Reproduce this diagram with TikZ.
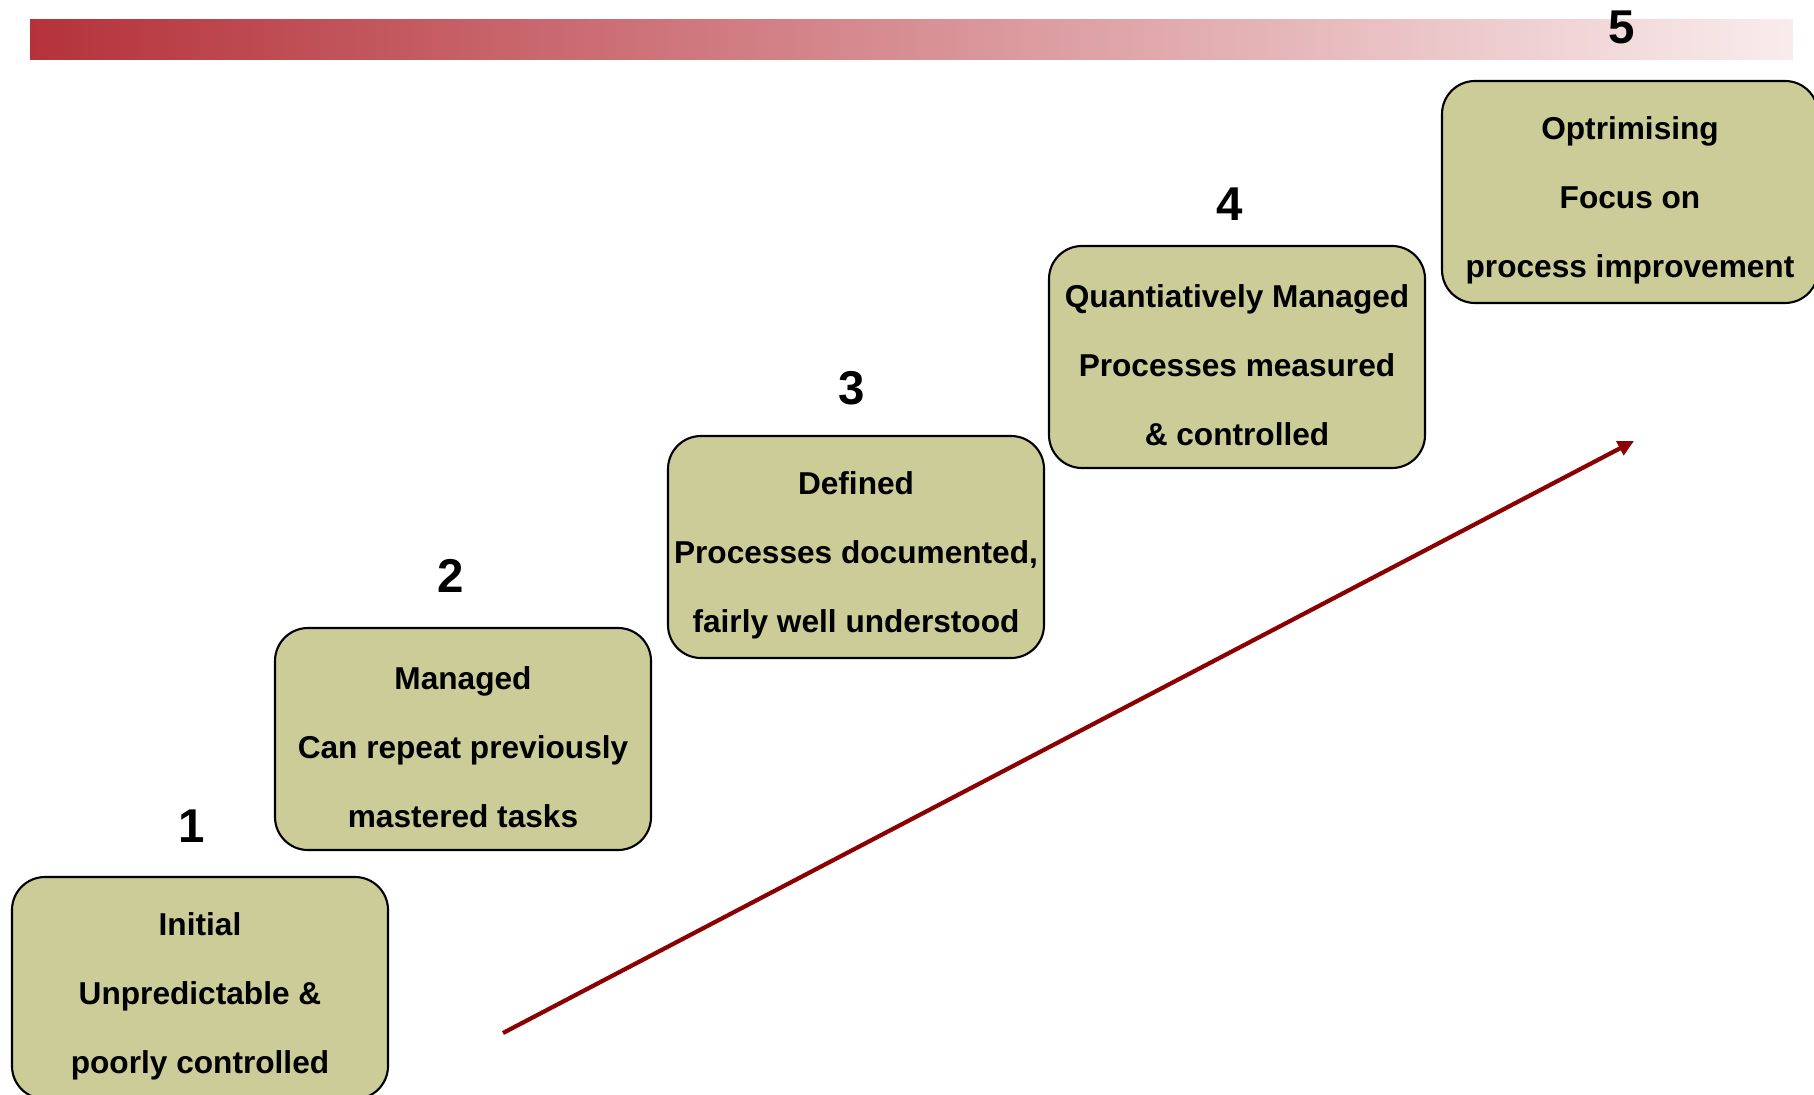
\documentclass[tikz,border=0pt]{standalone}
\usepackage{fontspec}
\setmainfont{Liberation Sans}
\usetikzlibrary{arrows.meta}
\definecolor{khaki}{RGB}{204,204,153}
\definecolor{barred}{RGB}{181,50,58}
\definecolor{barpink}{RGB}{249,236,237}
\definecolor{arrred}{RGB}{139,0,0}
\newcommand{\lvltop}{\rule{0pt}{11.2pt}}

\begin{document}
\begin{tikzpicture}[every node/.style={font=\bfseries}, lvl/.style={draw, line width=0.6pt, fill=khaki, rounded corners=3.3mm, minimum width=3.76cm, minimum height=2.22cm, inner sep=0.4mm, align=center, font=\bfseries\fontsize{9}{19.6}\selectfont}, num/.style={inner sep=0pt, font=\bfseries\fontsize{13.5}{16}\selectfont}]
	\useasboundingbox (0,0) rectangle (18.14,-10.95);
	\shade[left color=barred, right color=barpink] (0.30,-0.20) rectangle (17.93,-0.60);
	\node[lvl] (L1) at (2.00,-9.88) {\lvltop Initial\\Unpredictable \&\\poorly controlled};
	\node[lvl] (L2) at (4.63,-7.39) {\lvltop Managed\\Can repeat previously\\mastered tasks};
	\node[lvl] (L3) at (8.56,-5.47) {\lvltop Defined\\Processes documented,\\fairly well understood};
	\node[lvl] (L4) at (12.37,-3.57) {\lvltop Quantiatively Managed\\Processes measured\\\& controlled};
	\node[lvl] (L5) at (16.30,-1.92) {\lvltop Optrimising\\Focus on\\process improvement};
	\node[num] (n1) at (1.92,-8.26) {1};
	\node[num] (n2) at (4.51,-5.76) {2};
	\node[num] (n3) at (8.52,-3.88) {3};
	\node[num] (n4) at (12.30,-2.04) {4};
	\node[num] (n5) at (16.22,-0.27) {5};
	\coordinate (s) at (5.03,-10.33);
	\coordinate (e) at (16.34,-4.41);
	\draw[arrred, line width=1.2pt, -{Triangle[length=1.6mm, width=1.5mm]}] (s) -- (e);
\end{tikzpicture}
\end{document}
